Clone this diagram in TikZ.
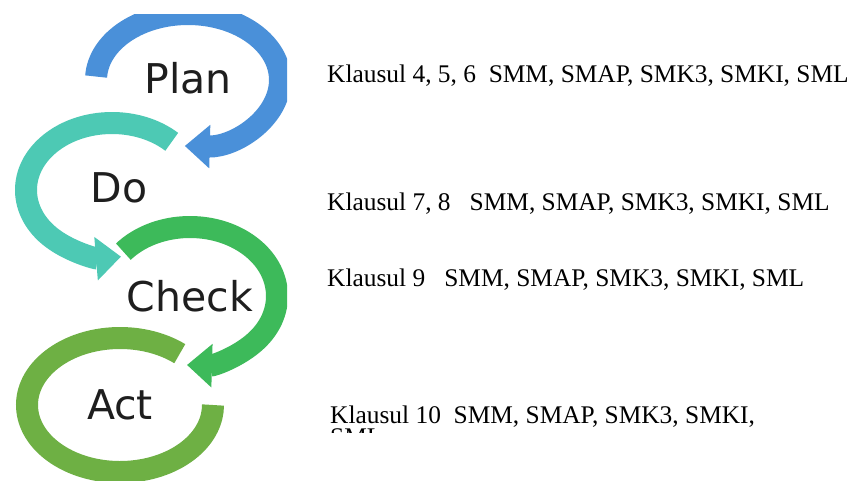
\documentclass[tikz,border=0pt]{standalone}
\usepackage{fontspec}
\setmainfont{Liberation Serif}
\newfontfamily\labelfont{DejaVu Sans}
\usetikzlibrary{arrows.meta}

\definecolor{planblue}{RGB}{74,144,217}
\definecolor{doteal}{RGB}{77,201,180}
\definecolor{checkgreen}{RGB}{61,186,90}
\definecolor{actgreen}{RGB}{110,176,68}
\definecolor{labelgray}{RGB}{30,30,30}

\tikzset{
  ring/.style={line width=22pt, preaction={draw=white, line width=28pt}},
  ringtip/.style={line width=22pt, -{Triangle[length=25pt,width=42pt]},
    preaction={draw=white, line width=28pt, -{Triangle[length=31pt,width=54pt]}}},
  stage/.style={font=\labelfont\fontsize{41}{41}\selectfont, text=labelgray, inner sep=0pt},
  klausul/.style={font=\fontsize{25.4}{30}\selectfont, anchor=base west, inner sep=0pt}
}

\begin{document}
\begin{tikzpicture}[x=1pt,y=-1pt]
  \useasboundingbox (0,0) rectangle (851,480);

  % cycle of four arcs, last drawn on top
  \begin{scope}
    \clip (0,14) rectangle (287,480);
    \coordinate (cact) at (120,405);
    \coordinate (ccheck) at (190,296);
    \coordinate (cdo) at (112,190);
    \coordinate (cplan) at (188,80);
    \draw[ring, actgreen] (cact) ++(-50:93 and 67)
      arc[start angle=-50, end angle=-360, x radius=93, y radius=67];
    \draw[ringtip, checkgreen] (ccheck) ++(220:87 and 69)
      arc[start angle=220, end angle=452, x radius=87, y radius=69];
    \draw[ringtip, doteal] (cdo) ++(-46:86 and 67)
      arc[start angle=-46, end angle=-276, x radius=86, y radius=67];
    \draw[ringtip, planblue] (cplan) ++(183:92 and 66)
      arc[start angle=183, end angle=452, x radius=92, y radius=66];
  \end{scope}

  \node[stage] (plan) at (188,78) {Plan};
  \node[stage] (do) at (119,188) {Do};
  \node[stage] (check) at (190,296) {Check};
  \node[stage] (act) at (120,405) {Act};

  % clauses
  \node[klausul] (k1) at (327,82) {Klausul 4, 5, 6\hspace{0.5em}SMM, SMAP, SMK3, SMKI, SML};
  \node[klausul] (k2) at (327,210) {Klausul 7, 8\hspace{0.75em}SMM, SMAP, SMK3, SMKI, SML};
  \node[klausul] (k3) at (327,286) {Klausul 9\hspace{0.75em}SMM, SMAP, SMK3, SMKI, SML};
  \node[klausul] (k4) at (330,423) {Klausul 10\hspace{0.5em}SMM, SMAP, SMK3, SMKI,};
  \begin{scope}
    \clip (320,426) rectangle (800,432);
    \node[klausul] (k4b) at (330,445) {SML};
  \end{scope}
\end{tikzpicture}
\end{document}
